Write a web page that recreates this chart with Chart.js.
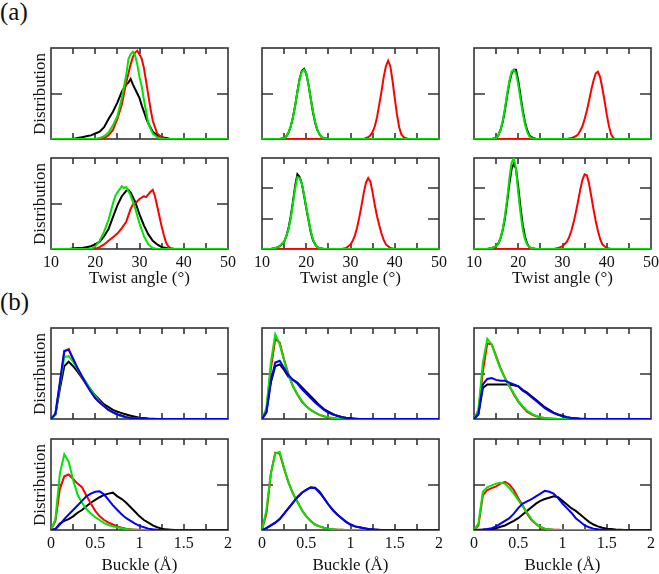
<!DOCTYPE html>
<html>
<head>
<meta charset="utf-8">
<script src="https://cdn.jsdelivr.net/npm/chart.js@4.4.1/dist/chart.umd.min.js"></script>
<style>
  body { margin: 0; background: #fff; }
  #fig { position: relative; width: 659px; height: 574px; overflow: hidden; font-family: "Liberation Serif", "Times New Roman", serif; color: #111; }
  .lbl { position: absolute; white-space: nowrap; line-height: 1; }
  .ylbl { position: absolute; white-space: nowrap; line-height: 1; font-size: 17px; transform: translate(-50%, -50%) rotate(-90deg); }
</style>
</head>
<body>
<div id="fig"></div>
<script>
// ---- data: twist angle distributions, [angle, density] (panel a, rows x cols) ----
const a11Black = [[15,0],[16,0.01],[17,0.02],[18,0.03],[19,0.04],[20,0.06],[21,0.08],[22,0.13],[23,0.22],[24,0.30],[25,0.40],[26,0.52],[27,0.60],[27.5,0.62],[28,0.66],[28.5,0.60],[29,0.55],[29.5,0.50],[30,0.45],[30.5,0.37],[31,0.30],[31.5,0.23],[32,0.17],[33,0.08],[34,0.04],[35,0.02],[36,0.01],[37,0]];
const a11Red = [[21,0],[22,0.01],[23,0.04],[24,0.10],[25,0.22],[26,0.38],[27,0.62],[28,0.82],[28.5,0.90],[29,0.95],[29.5,0.97],[30,0.93],[30.5,0.88],[31,0.78],[31.5,0.63],[32,0.48],[32.5,0.33],[33,0.20],[34,0.06],[35,0.02],[36,0]];
const a11Green = [[20,0],[21,0.01],[22,0.03],[23,0.07],[24,0.15],[25,0.25],[26,0.45],[26.5,0.58],[27,0.70],[27.5,0.88],[28,0.93],[28.5,0.96],[29,0.92],[29.5,0.82],[30,0.68],[30.5,0.58],[31,0.43],[31.5,0.30],[32,0.17],[33,0.06],[34,0.02],[35,0]];

const a12Black = [[14,0],[15,0.01],[15.5,0.03],[16,0.07],[16.5,0.14],[17,0.24],[17.5,0.37],[18,0.52],[18.5,0.66],[19,0.75],[19.5,0.77],[20,0.72],[20.5,0.60],[21,0.45],[21.5,0.30],[22,0.18],[22.5,0.10],[23,0.05],[23.5,0.02],[24,0.01],[25,0]];
const a12Red = [[33,0],[34,0.02],[34.5,0.04],[35,0.08],[35.5,0.14],[36,0.24],[36.5,0.38],[37,0.52],[37.5,0.68],[38,0.80],[38.5,0.86],[39,0.80],[39.5,0.64],[40,0.45],[40.5,0.27],[41,0.13],[41.5,0.05],[42,0.02],[43,0]];
const a12Green = [[14,0],[15,0.01],[15.5,0.03],[16,0.07],[16.5,0.14],[17,0.24],[17.5,0.37],[18,0.52],[18.5,0.66],[19,0.74],[19.5,0.76],[20,0.72],[20.5,0.60],[21,0.45],[21.5,0.31],[22,0.19],[22.5,0.10],[23,0.05],[23.5,0.02],[24,0.01],[25,0]];

const a13Black = [[14,0],[15,0.01],[15.5,0.04],[16,0.10],[16.5,0.19],[17,0.32],[17.5,0.48],[18,0.62],[18.5,0.72],[19,0.76],[19.5,0.76],[20,0.64],[20.5,0.48],[21,0.32],[21.5,0.19],[22,0.10],[22.5,0.04],[23,0.02],[24,0]];
const a13Red = [[31,0],[32,0.01],[33,0.03],[33.5,0.05],[34,0.09],[34.5,0.14],[35,0.22],[35.5,0.31],[36,0.42],[36.5,0.54],[37,0.64],[37.5,0.72],[38,0.74],[38.5,0.68],[39,0.56],[39.5,0.42],[40,0.27],[40.5,0.14],[41,0.05],[41.5,0.01],[42,0]];
const a13Green = [[14,0],[15,0.01],[15.5,0.04],[16,0.10],[16.5,0.20],[17,0.34],[17.5,0.50],[18,0.64],[18.5,0.74],[19,0.76],[19.5,0.72],[20,0.60],[20.5,0.44],[21,0.29],[21.5,0.17],[22,0.08],[22.5,0.03],[23,0.01],[24,0]];

const a21Black = [[14,0],[15,0.005],[16,0.01],[17,0.01],[18,0.02],[19,0.03],[20,0.05],[21,0.08],[22,0.14],[23,0.22],[24,0.35],[25,0.48],[26,0.58],[27,0.64],[27.5,0.65],[28,0.62],[29,0.52],[30,0.38],[31,0.26],[32,0.16],[33,0.09],[34,0.05],[35,0.02],[36,0.01],[37,0]];
const a21Red = [[20,0],[21,0.02],[22,0.05],[23,0.09],[24,0.13],[25,0.17],[26,0.23],[27,0.30],[28,0.44],[28.5,0.49],[29,0.50],[30,0.55],[31,0.58],[31.5,0.57],[32,0.60],[32.5,0.63],[33,0.65],[33.5,0.58],[34,0.47],[34.5,0.36],[35,0.25],[35.5,0.15],[36,0.07],[36.5,0.03],[37,0.01],[38,0]];
const a21Green = [[19,0],[20,0.03],[21,0.09],[22,0.19],[23,0.32],[24,0.50],[24.5,0.58],[25,0.62],[26,0.69],[26.5,0.67],[27,0.68],[28,0.59],[29,0.45],[30,0.28],[31,0.14],[32,0.05],[33,0.01],[34,0]];

const a22Black = [[12,0],[13,0.01],[14,0.03],[15,0.08],[15.5,0.14],[16,0.23],[16.5,0.36],[17,0.52],[17.5,0.70],[18,0.82],[18.5,0.79],[19,0.72],[19.5,0.59],[20,0.45],[20.5,0.32],[21,0.19],[21.5,0.10],[22,0.05],[22.5,0.02],[23,0.01],[24,0]];
const a22Red = [[28,0],[29,0.01],[30,0.05],[30.5,0.09],[31,0.15],[31.5,0.24],[32,0.35],[32.5,0.48],[33,0.62],[33.5,0.73],[34,0.78],[34.5,0.74],[35,0.62],[35.5,0.48],[36,0.36],[36.5,0.26],[37,0.17],[37.5,0.10],[38,0.05],[39,0.01],[40,0]];
const a22Green = [[12,0],[13,0.01],[14,0.03],[15,0.08],[15.5,0.14],[16,0.22],[16.5,0.34],[17,0.50],[17.5,0.67],[18,0.79],[18.5,0.78],[19,0.72],[19.5,0.60],[20,0.46],[20.5,0.33],[21,0.20],[21.5,0.11],[22,0.05],[22.5,0.02],[23,0.01],[24,0]];

const a23Black = [[13,0],[14,0.01],[15,0.03],[15.5,0.06],[16,0.12],[16.5,0.21],[17,0.34],[17.5,0.52],[18,0.72],[18.5,0.88],[19,0.94],[19.5,0.88],[20,0.68],[20.5,0.46],[21,0.27],[21.5,0.14],[22,0.06],[22.5,0.02],[23,0.01],[24,0]];
const a23Red = [[28,0],[29,0.01],[30,0.03],[31,0.08],[31.5,0.13],[32,0.20],[32.5,0.29],[33,0.40],[33.5,0.52],[34,0.65],[34.5,0.76],[35,0.82],[35.5,0.81],[36,0.72],[36.5,0.58],[37,0.44],[37.5,0.31],[38,0.20],[38.5,0.11],[39,0.05],[40,0.01],[41,0]];
const a23Green = [[13,0],[14,0.01],[15,0.03],[15.5,0.06],[16,0.12],[16.5,0.22],[17,0.37],[17.5,0.55],[18,0.78],[18.5,0.95],[19,1.0],[19.5,0.88],[20,0.62],[20.5,0.40],[21,0.22],[21.5,0.11],[22,0.05],[22.5,0.02],[23,0.01],[24,0]];

// ---- data: buckle distributions, sampled every 0.05 Å from 0 (panel b) ----
const buckleStep = 0.05;
const b11Black = [0,0.05,0.33,0.58,0.63,0.58,0.52,0.45,0.38,0.32,0.26,0.21,0.16,0.13,0.10,0.08,0.065,0.05,0.035,0.025,0.015,0.01,0.005,0.002,0];
const b11Red = [0,0.05,0.38,0.74,0.77,0.66,0.55,0.46,0.38,0.30,0.23,0.18,0.14,0.10,0.07,0.05,0.035,0.02,0.012,0.007,0.004,0.002,0];
const b11Green = [0,0.05,0.38,0.68,0.69,0.63,0.55,0.47,0.40,0.32,0.25,0.19,0.14,0.10,0.07,0.045,0.03,0.02,0.01,0.006,0.003,0.001,0];
const b11Blue = [0,0.06,0.40,0.75,0.76,0.66,0.56,0.47,0.38,0.30,0.23,0.18,0.14,0.10,0.075,0.05,0.035,0.02,0.012,0.008,0.004,0.002,0];

const b12Black = [0,0.07,0.40,0.58,0.60,0.54,0.46,0.43,0.40,0.35,0.30,0.25,0.20,0.15,0.11,0.08,0.055,0.035,0.022,0.013,0.007,0.003,0];
const b12Red = [0,0.10,0.55,0.88,0.84,0.65,0.49,0.36,0.27,0.19,0.14,0.10,0.07,0.045,0.03,0.018,0.01,0.006,0.004,0.002,0];
const b12Green = [0,0.12,0.62,0.93,0.82,0.64,0.48,0.36,0.27,0.20,0.14,0.10,0.07,0.045,0.03,0.018,0.01,0.006,0.004,0.002,0];
const b12Blue = [0,0.08,0.42,0.62,0.64,0.56,0.48,0.43,0.39,0.33,0.28,0.23,0.18,0.14,0.10,0.07,0.05,0.035,0.02,0.012,0.007,0.003,0];

const b13Black = [0,0.05,0.34,0.38,0.38,0.38,0.38,0.38,0.38,0.37,0.36,0.32,0.29,0.25,0.21,0.17,0.13,0.10,0.07,0.05,0.035,0.02,0.012,0.007,0.003,0.001,0];
const b13Red = [0,0.08,0.52,0.83,0.82,0.69,0.56,0.45,0.36,0.27,0.19,0.13,0.08,0.05,0.03,0.018,0.01,0.006,0.003,0.001,0];
const b13Green = [0,0.10,0.62,0.88,0.82,0.68,0.55,0.45,0.36,0.28,0.20,0.14,0.09,0.06,0.035,0.02,0.01,0.006,0.003,0.001,0];
const b13Blue = [0,0.06,0.38,0.44,0.45,0.43,0.42,0.42,0.40,0.38,0.36,0.31,0.28,0.24,0.20,0.16,0.12,0.09,0.065,0.045,0.03,0.02,0.012,0.007,0.004,0.002,0];

const b21Black = [0,0.01,0.07,0.10,0.12,0.15,0.19,0.22,0.26,0.30,0.33,0.36,0.385,0.40,0.41,0.37,0.34,0.30,0.25,0.20,0.15,0.11,0.08,0.05,0.03,0.015,0.007,0.003,0];
const b21Red = [0,0.10,0.45,0.59,0.61,0.56,0.51,0.47,0.38,0.29,0.21,0.15,0.11,0.08,0.06,0.04,0.025,0.015,0.008,0.004,0.002,0];
const b21Green = [0,0.12,0.62,0.83,0.75,0.55,0.39,0.30,0.23,0.18,0.14,0.11,0.075,0.055,0.04,0.03,0.02,0.01,0.005,0.002,0];
const b21Blue = [0,0.01,0.06,0.12,0.17,0.22,0.27,0.32,0.37,0.40,0.42,0.425,0.39,0.33,0.27,0.22,0.17,0.13,0.10,0.07,0.045,0.03,0.015,0.008,0.003,0];

const b22Black = [0,0.02,0.05,0.08,0.12,0.18,0.24,0.30,0.36,0.41,0.44,0.47,0.465,0.42,0.35,0.28,0.22,0.17,0.13,0.09,0.06,0.04,0.03,0.02,0.01,0.006,0.003,0.001,0];
const b22Red = [0,0.18,0.62,0.85,0.84,0.67,0.52,0.40,0.31,0.22,0.15,0.10,0.06,0.04,0.025,0.015,0.008,0.004,0.002,0];
const b22Green = [0,0.22,0.62,0.84,0.86,0.68,0.52,0.40,0.31,0.22,0.15,0.10,0.06,0.04,0.025,0.015,0.008,0.004,0.002,0];
const b22Blue = [0,0.02,0.05,0.08,0.12,0.18,0.24,0.30,0.36,0.41,0.44,0.465,0.46,0.41,0.35,0.28,0.22,0.17,0.13,0.09,0.06,0.04,0.03,0.02,0.01,0.006,0.003,0.001,0];

const b23Black = [0,0.001,0.003,0.006,0.01,0.02,0.035,0.05,0.075,0.10,0.13,0.17,0.21,0.25,0.29,0.32,0.34,0.355,0.37,0.36,0.32,0.28,0.24,0.21,0.17,0.13,0.09,0.06,0.04,0.025,0.015,0.01,0.005,0.002,0];
const b23Red = [0,0.05,0.38,0.44,0.46,0.48,0.51,0.53,0.50,0.44,0.35,0.27,0.18,0.11,0.065,0.03,0.015,0.008,0.004,0.002,0];
const b23Green = [0,0.07,0.42,0.47,0.49,0.51,0.52,0.51,0.46,0.40,0.33,0.26,0.19,0.12,0.07,0.035,0.015,0.007,0.003,0.001,0];
const b23Blue = [0,0.002,0.005,0.01,0.02,0.04,0.07,0.10,0.13,0.18,0.24,0.29,0.315,0.34,0.37,0.40,0.43,0.42,0.40,0.35,0.29,0.24,0.19,0.13,0.09,0.05,0.03,0.015,0.008,0.004,0.002,0];

// ---- axis ticks ----
const twistTicks = [10, 15, 20, 25, 30, 35, 40, 45, 50];
const twistLabels = [10, 20, 30, 40, 50];
const buckleTicks = [0, 0.25, 0.5, 0.75, 1, 1.25, 1.5, 1.75, 2];
const buckleLabels = [0, 0.5, 1, 1.5, 2];
const halfTick = [0.5];
const thirdTicks = [1 / 3, 2 / 3];

// ---- layout ----
const colLeft = [51, 262, 474];
const rowTop = [48, 158, 328, 439];
const boxW = 177, boxH = 91;
const lineColors = { black: '#000000', red: '#ff0000', green: '#00e400', blue: '#0000ff' };
const drawOrder = { black: 4, red: 3, green: 2, blue: 1 }; // lower order ends up on top

const panels = [
  { row: 0, col: 0, axis: 'twist', yTicks: halfTick, lines: { black: a11Black, red: a11Red, green: a11Green } },
  { row: 0, col: 1, axis: 'twist', yTicks: halfTick, lines: { black: a12Black, red: a12Red, green: a12Green } },
  { row: 0, col: 2, axis: 'twist', yTicks: halfTick, lines: { black: a13Black, red: a13Red, green: a13Green } },
  { row: 1, col: 0, axis: 'twist', yTicks: halfTick, lines: { black: a21Black, red: a21Red, green: a21Green } },
  { row: 1, col: 1, axis: 'twist', yTicks: thirdTicks, lines: { black: a22Black, red: a22Red, green: a22Green } },
  { row: 1, col: 2, axis: 'twist', yTicks: thirdTicks, lines: { black: a23Black, red: a23Red, green: a23Green } },
  { row: 2, col: 0, axis: 'buckle', yTicks: halfTick, lines: { black: b11Black, red: b11Red, green: b11Green, blue: b11Blue } },
  { row: 2, col: 1, axis: 'buckle', yTicks: halfTick, lines: { black: b12Black, red: b12Red, green: b12Green, blue: b12Blue } },
  { row: 2, col: 2, axis: 'buckle', yTicks: halfTick, lines: { black: b13Black, red: b13Red, green: b13Green, blue: b13Blue } },
  { row: 3, col: 0, axis: 'buckle', yTicks: halfTick, lines: { black: b21Black, red: b21Red, green: b21Green, blue: b21Blue } },
  { row: 3, col: 1, axis: 'buckle', yTicks: halfTick, lines: { black: b22Black, red: b22Red, green: b22Green, blue: b22Blue } },
  { row: 3, col: 2, axis: 'buckle', yTicks: halfTick, lines: { black: b23Black, red: b23Red, green: b23Green, blue: b23Blue } }
];

function twistPoints(pairs) {
  let pts = pairs.map(p => ({ x: p[0], y: p[1] }));
  if (pts[0].x > 10) pts.unshift({ x: 10, y: 0 });
  if (pts[pts.length - 1].x < 50) pts.push({ x: 50, y: 0 });
  return pts;
}

function bucklePoints(vals) {
  let pts = vals.map((v, i) => ({ x: +(i * buckleStep).toFixed(2), y: v }));
  pts.push({ x: 2, y: 0 });
  return pts;
}

// frame with inward ticks, drawn under the curves
const framePlugin = {
  id: 'frame',
  beforeDatasetsDraw(chart, args, opts) {
    const { ctx, chartArea: a } = chart;
    const x = chart.scales.x, y = chart.scales.y;
    ctx.save();
    ctx.strokeStyle = '#333';
    ctx.lineWidth = 1.6;
    ctx.strokeRect(a.left, a.top, a.right - a.left, a.bottom - a.top);
    ctx.beginPath();
    opts.xTicks.forEach(v => {
      let px = Math.round(x.getPixelForValue(v));
      if (px <= a.left + 1 || px >= a.right - 1) return;
      ctx.moveTo(px, a.top); ctx.lineTo(px, a.top + 6);
      ctx.moveTo(px, a.bottom); ctx.lineTo(px, a.bottom - 6);
    });
    opts.yTicks.forEach(v => {
      let py = Math.round(y.getPixelForValue(v));
      ctx.moveTo(a.left, py); ctx.lineTo(a.left + 11, py);
      ctx.moveTo(a.right, py); ctx.lineTo(a.right - 11, py);
    });
    ctx.stroke();
    if (opts.labels) {
      ctx.fillStyle = '#111';
      ctx.font = '16px "Liberation Serif"';
      ctx.textAlign = 'center';
      ctx.textBaseline = 'alphabetic';
      opts.labels.forEach(v => {
        ctx.fillText(String(v), x.getPixelForValue(v), a.bottom + 18);
      });
    }
    ctx.restore();
  }
};

const fig = document.getElementById('fig');

panels.forEach(p => {
  let bottomRow = p.row === 1 || p.row === 3;
  let padB = bottomRow ? 26 : 6;
  let cv = document.createElement('canvas');
  cv.width = boxW + 24;
  cv.height = boxH + 5 + padB;
  cv.style.position = 'absolute';
  cv.style.left = (colLeft[p.col] - 12) + 'px';
  cv.style.top = (rowTop[p.row] - 5) + 'px';
  fig.appendChild(cv);

  let isTwist = p.axis === 'twist';
  let datasets = Object.keys(p.lines).map(name => ({
    label: name,
    data: isTwist ? twistPoints(p.lines[name]) : bucklePoints(p.lines[name]),
    borderColor: lineColors[name],
    borderWidth: 2,
    pointRadius: 0,
    fill: false,
    tension: 0,
    order: drawOrder[name]
  }));

  new Chart(cv.getContext('2d'), {
    type: 'line',
    data: { datasets: datasets },
    options: {
      responsive: false,
      animation: false,
      events: [],
      layout: { padding: { left: 12, right: 12, top: 5, bottom: padB } },
      scales: {
        x: { type: 'linear', min: isTwist ? 10 : 0, max: isTwist ? 50 : 2, display: false },
        y: { type: 'linear', min: 0, max: 1, display: false }
      },
      plugins: {
        legend: { display: false },
        tooltip: { enabled: false },
        frame: {
          xTicks: isTwist ? twistTicks : buckleTicks,
          yTicks: p.yTicks,
          labels: bottomRow ? (isTwist ? twistLabels : buckleLabels) : null
        }
      }
    },
    plugins: [framePlugin]
  });
});

// text labels
function addLabel(text, cls, left, top, size, center) {
  let d = document.createElement('div');
  d.className = cls;
  d.textContent = text;
  d.style.left = left + 'px';
  d.style.top = top + 'px';
  if (size) d.style.fontSize = size + 'px';
  if (center) d.style.transform = 'translateX(-50%)';
  fig.appendChild(d);
}

addLabel('(a)', 'lbl', 0, -1, 25);
addLabel('(b)', 'lbl', 0, 289, 25);
colLeft.forEach(l => {
  addLabel('Twist angle (°)', 'lbl', l + boxW / 2, 269, 17, true);
  addLabel('Buckle (Å)', 'lbl', l + boxW / 2, 556, 17, true);
});
rowTop.forEach(t => {
  addLabel('Distribution', 'ylbl', 38.5, t + boxH / 2);
});
</script>
</body>
</html>
